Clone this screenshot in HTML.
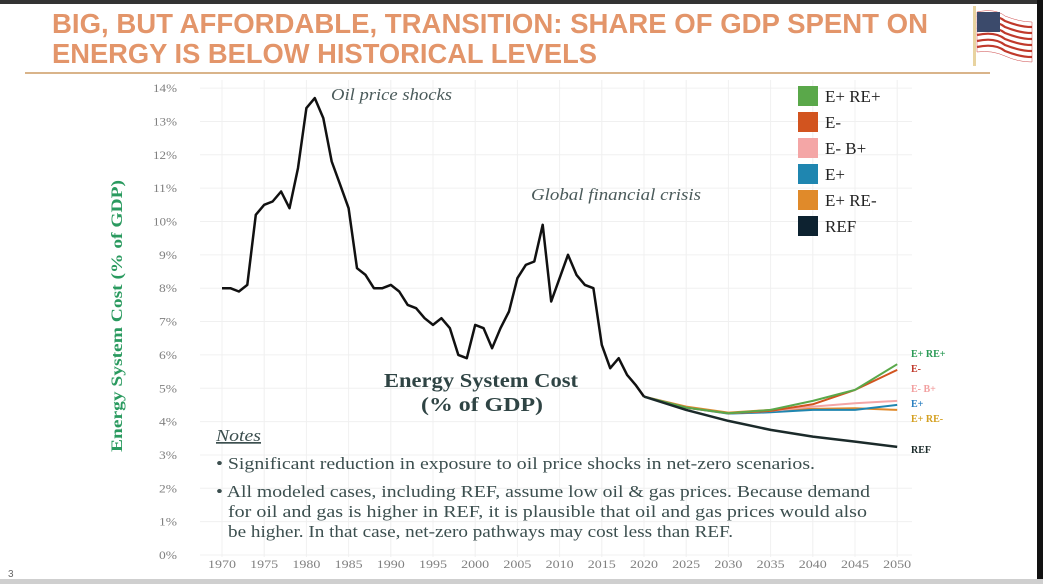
<!DOCTYPE html>
<html><head><meta charset="utf-8"><style>
html,body{margin:0;padding:0;background:#fff;}
body{width:1043px;height:584px;overflow:hidden;position:relative;}
svg{position:absolute;left:0;top:0;}
</style></head><body>
<svg id="chart" width="1043" height="584" viewBox="0 0 1043 584" xmlns="http://www.w3.org/2000/svg">
<rect x="0" y="0" width="1043" height="584" fill="#fff"/>
<rect x="0" y="0" width="1043" height="4" fill="#333"/>
<rect x="1037" y="0" width="6" height="584" fill="#111"/>
<rect x="0" y="579" width="1043" height="5" fill="#cfcfcf"/>
<g font-family="Liberation Sans Narrow, Liberation Sans, sans-serif" font-weight="bold" fill="#e3956a" font-size="28">
<text x="52" y="33" textLength="876" lengthAdjust="spacingAndGlyphs">BIG, BUT AFFORDABLE, TRANSITION: SHARE OF GDP SPENT ON</text>
<text x="52" y="63" textLength="545" lengthAdjust="spacingAndGlyphs">ENERGY IS BELOW HISTORICAL LEVELS</text>
</g>
<rect x="25" y="72" width="965" height="2" fill="#d9b48a"/>
<g>
<rect x="973" y="6" width="3" height="60" fill="#e8d3a0"/>
<path d="M977 12 Q995 8 1005 16 Q1020 22 1032 22 L1032 62 Q1018 62 1005 56 Q992 50 977 52 Z" fill="#fff" stroke="#c44" stroke-width="0.5"/>
<g stroke="#c0392b" stroke-width="2.2" fill="none">
<path d="M977 17 Q995 13 1005 21 Q1020 27 1032 27"/>
<path d="M977 23 Q995 19 1005 27 Q1020 33 1032 33"/>
<path d="M977 29 Q995 25 1005 33 Q1020 39 1032 39"/>
<path d="M977 35 Q995 31 1005 39 Q1020 45 1032 45"/>
<path d="M977 41 Q995 37 1005 45 Q1020 51 1032 51"/>
<path d="M977 47 Q995 43 1005 51 Q1020 57 1032 57"/>
</g>
<rect x="977" y="12" width="23" height="20" fill="#3b4a6b"/>
</g>
<g id="grid"></g>
<g id="yticks" font-family="Liberation Serif, serif" font-size="12" fill="#808080" text-anchor="end"></g>
<g id="xticks" font-family="Liberation Serif, serif" font-size="12" fill="#808080" text-anchor="middle"></g>
<text transform="translate(122,316) rotate(-90)" text-anchor="middle" textLength="272" lengthAdjust="spacingAndGlyphs" font-family="Liberation Serif, serif" font-weight="bold" font-size="16" fill="#2a9a5f">Energy System Cost (% of GDP)</text>
<g id="series"></g>
<g font-family="Liberation Serif, serif" font-style="italic" font-size="17" fill="#4a5a5a">
<text x="331" y="100" textLength="121" lengthAdjust="spacingAndGlyphs">Oil price shocks</text>
<text x="531" y="200" textLength="170" lengthAdjust="spacingAndGlyphs">Global financial crisis</text>
</g>
<g font-family="Liberation Serif, serif" font-weight="bold" font-size="20" fill="#2f4444">
<text x="384" y="387" textLength="194" lengthAdjust="spacingAndGlyphs">Energy System Cost</text>
<text x="421" y="411" textLength="122" lengthAdjust="spacingAndGlyphs">(% of GDP)</text>
</g>
<g font-family="Liberation Serif, serif" font-size="17" fill="#3c4f4f">
<text x="216" y="441" font-style="italic" text-decoration="underline" textLength="45" lengthAdjust="spacingAndGlyphs">Notes</text>
<text x="216" y="469" textLength="599" lengthAdjust="spacingAndGlyphs">• Significant reduction in exposure to oil price shocks in net-zero scenarios.</text>
<text x="216" y="497" textLength="654" lengthAdjust="spacingAndGlyphs">• All modeled cases, including REF, assume low oil &amp; gas prices.  Because demand</text>
<text x="228" y="517" textLength="639" lengthAdjust="spacingAndGlyphs">for oil and gas is higher in REF, it is plausible that oil and gas prices would also</text>
<text x="228" y="537" textLength="505" lengthAdjust="spacingAndGlyphs">be higher. In that case, net-zero pathways may cost less than REF.</text>
</g>
<g id="legend" font-family="Liberation Serif, serif" font-size="17" fill="#222"></g>
<g id="endlabels" font-family="Liberation Serif, serif" font-weight="bold" font-size="10"></g>
<text x="8" y="577" font-family="Liberation Sans, sans-serif" font-size="10" fill="#666">3</text>
</svg>
<script>
const histYears = [1970,1971,1972,1973,1974,1975,1976,1977,1978,1979,1980,1981,1982,1983,1984,1985,1986,1987,1988,1989,1990,1991,1992,1993,1994,1995,1996,1997,1998,1999,2000,2001,2002,2003,2004,2005,2006,2007,2008,2009,2010,2011,2012,2013,2014,2015,2016,2017,2018,2019,2020];
const histValues = [8.0,8.0,7.9,8.1,10.2,10.5,10.6,10.9,10.4,11.6,13.4,13.7,13.1,11.8,11.1,10.4,8.6,8.4,8.0,8.0,8.1,7.9,7.5,7.4,7.1,6.9,7.1,6.8,6.0,5.9,6.9,6.8,6.2,6.8,7.3,8.3,8.7,8.8,9.9,7.6,8.3,9.0,8.4,8.1,8.0,6.3,5.6,5.9,5.4,5.1,4.75];
const projYears = [2020,2025,2030,2035,2040,2045,2050];
const seriesNames = ["E+ RE+","E-","E- B+","E+","E+ RE-","REF"];
const valsEplusREplus = [4.75,4.42,4.25,4.35,4.62,4.95,5.72];
const valsEminus = [4.75,4.42,4.25,4.32,4.52,4.95,5.55];
const valsEminusBplus = [4.75,4.42,4.25,4.32,4.45,4.55,4.62];
const valsEplus = [4.75,4.42,4.24,4.28,4.35,4.35,4.50];
const valsEplusREminus = [4.75,4.45,4.27,4.35,4.38,4.40,4.35];
const valsREF = [4.75,4.35,4.02,3.75,3.55,3.40,3.24];
const yTicks = [0,1,2,3,4,5,6,7,8,9,10,11,12,13,14];
const xTicks = [1970,1975,1980,1985,1990,1995,2000,2005,2010,2015,2020,2025,2030,2035,2040,2045,2050];

const NS="http://www.w3.org/2000/svg";
const X = yr => 222 + (yr-1970)*8.44;
const Y = v => 555 - v*33.35;
function mk(tag, attrs, parent){const e=document.createElementNS(NS,tag);for(const k in attrs)e.setAttribute(k,attrs[k]);parent.appendChild(e);return e;}
const grid=document.getElementById('grid');
yTicks.forEach(t=>{const l=mk('line',{x1:200,x2:912,y1:Y(t),y2:Y(t),stroke:'#f0f0f0','stroke-width':1},grid);


const tx=mk('text',{x:177,y:Y(t)+4,textLength:(t>=10?24:18),lengthAdjust:'spacingAndGlyphs'},document.getElementById('yticks'));tx.textContent=t+'%';

});
xTicks.forEach(t=>{const l=mk('line',{x1:X(t),x2:X(t),y1:80,y2:557,stroke:'#f0f0f0','stroke-width':1},grid);


const tx=mk('text',{x:X(t)-14,y:568,textLength:28,lengthAdjust:'spacingAndGlyphs','text-anchor':'start'},document.getElementById('xticks'));tx.textContent=t;

});
const sg=document.getElementById('series');
function line(xs,vs,color,w,name){const p=mk('path',{d:xs.map((x,i)=>(i?'L':'M')+X(x).toFixed(1)+' '+Y(vs[i]).toFixed(1)).join(' '),fill:'none',stroke:color,'stroke-width':w,'stroke-linejoin':'round'},sg);

}
const colors=["#5aa84a","#d2541f","#f4a6a6","#1f86b0","#e08a2a","#0d2230"];
const projData=[valsEplusREplus,valsEminus,valsEminusBplus,valsEplus,valsEplusREminus,valsREF];
[4,3,2,1,0].forEach(i=>line(projYears,projData[i],colors[i],2,'line-'+seriesNames[i].replace(/[^A-Za-z]+/g,'-').toLowerCase()));
line(projYears,valsREF,"#1b2a2a",2.5,'line-ref');
line(histYears,histValues,"#111",2.5,'line-historical');
const lg=document.getElementById('legend');
seriesNames.forEach((n,i)=>{const r=mk('rect',{x:798,y:86+i*26,width:20,height:20,fill:colors[i]},lg);


const t=mk('text',{x:825,y:102+i*26},lg);t.textContent=n;

});
const labColors=["#2a9a55","#c0392b","#f2a0a0","#2a7fc0","#d4a020","#1b2a2a"];
const labY=[357,372,392,407,422,453];
const el=document.getElementById('endlabels');
seriesNames.forEach((n,i)=>{const t=mk('text',{x:911,y:labY[i],fill:labColors[i]},el);t.textContent=n;

});
</script>
</body></html>
